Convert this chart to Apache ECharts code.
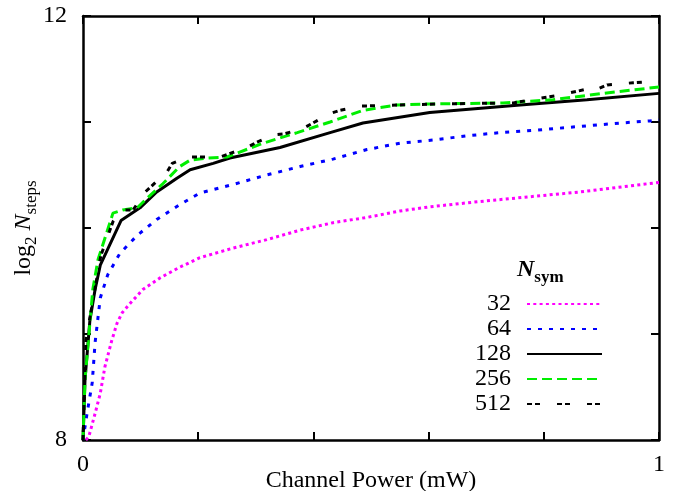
<!DOCTYPE html>
<html>
<head>
<meta charset="utf-8">
<script src="https://cdn.jsdelivr.net/npm/echarts@6/dist/echarts.min.js"></script>
<style>
	html, body { margin: 0; padding: 0; background: #fff; }
	#Chart1 { width: 679px; height: 491px; }
</style>
</head>
<body>
<div id="Chart1"></div>
<script>
	// 数据 (x = channel power in mW, y = log2 Nsteps)
	var legendNames = ['32', '64', '128', '256', '512'];
	var xTicks = [0, 1];
	var yTicks = [8, 12];

	var sym32 = [[0.005, 8.0], [0.01, 8.03], [0.021, 8.25], [0.03, 8.44], [0.038, 8.69], [0.05, 8.94], [0.059, 9.1],
		[0.068, 9.2], [0.082, 9.29], [0.104, 9.42], [0.134, 9.53], [0.168, 9.63], [0.203, 9.72], [0.26, 9.81],
		[0.319, 9.89], [0.377, 9.98], [0.434, 10.05], [0.493, 10.1], [0.55, 10.16], [0.602, 10.2], [0.689, 10.25],
		[0.863, 10.34], [0.984, 10.42], [1, 10.43]];
	var sym64 = [[0, 8], [0.007, 8.25], [0.016, 8.54], [0.021, 8.92], [0.03, 9.34], [0.043, 9.56], [0.064, 9.76],
		[0.094, 9.93], [0.128, 10.08], [0.168, 10.22], [0.203, 10.33], [0.26, 10.41], [0.319, 10.5], [0.377, 10.58],
		[0.434, 10.65], [0.493, 10.74], [0.55, 10.8], [0.608, 10.83], [0.667, 10.87], [0.724, 10.9], [0.78, 10.92],
		[0.845, 10.95], [0.932, 10.99], [0.984, 11.01], [1, 11.02]];
	var sym128 = [[0, 8], [0.0035, 8.57], [0.012, 9.13], [0.021, 9.42], [0.03, 9.65], [0.066, 10.07], [0.099, 10.19],
		[0.128, 10.34], [0.163, 10.47], [0.186, 10.55], [0.226, 10.61], [0.255, 10.66], [0.342, 10.76], [0.429, 10.9],
		[0.486, 10.99], [0.602, 11.09], [0.759, 11.16], [0.875, 11.21], [1, 11.27]];
	var sym256 = [[0, 8], [0.0035, 8.57], [0.017, 9.42], [0.026, 9.7], [0.052, 10.14], [0.069, 10.17], [0.094, 10.19],
		[0.111, 10.28], [0.139, 10.42], [0.168, 10.58], [0.186, 10.64], [0.215, 10.66], [0.25, 10.67], [0.3125, 10.8],
		[0.372, 10.9], [0.429, 11.0], [0.486, 11.11], [0.545, 11.16], [0.602, 11.17], [0.729, 11.18], [0.816, 11.21],
		[0.903, 11.27], [1, 11.33]];
	var sym512 = [[0, 8], [0.005, 8.94], [0.031, 9.74], [0.052, 10.06], [0.068, 10.17], [0.087, 10.17], [0.108, 10.34],
		[0.146, 10.53], [0.155, 10.61], [0.182, 10.67], [0.238, 10.67], [0.285, 10.76], [0.302, 10.81], [0.333, 10.88],
		[0.351, 10.89], [0.382, 10.94], [0.399, 10.99], [0.429, 11.08], [0.446, 11.11], [0.481, 11.15], [0.545, 11.16],
		[0.615, 11.17], [0.747, 11.18], [0.788, 11.22], [0.823, 11.25], [0.875, 11.31], [0.885, 11.29], [0.91, 11.35],
		[0.955, 11.37], [0.984, 11.38], [1, 11.38]];

	var FONT = "'Liberation Serif', 'DejaVu Serif', serif";

	var Box1 = document.getElementById('Chart1');
	var instant1 = echarts.init(Box1);

	function frameAxis(pos, show) {
		return {
			type: 'value',
			position: pos,
			axisLine: { show: true, onZero: false, lineStyle: { color: '#000', width: 2.5 } },
			axisTick: { show: true, inside: true, length: 8, lineStyle: { color: '#000', width: 2 } },
			splitLine: { show: false },
			axisLabel: { show: show }
		};
	}

	var xBottom = frameAxis('bottom', true);
	xBottom.min = 0; xBottom.max = 1; xBottom.interval = 0.2;
	xBottom.name = 'Channel Power (mW)';
	xBottom.nameLocation = 'middle';
	xBottom.nameGap = 29;
	xBottom.nameMoveOverlap = false;
	xBottom.nameTextStyle = { fontFamily: FONT, fontSize: 24, color: '#000' };
	xBottom.axisLabel = {
		show: true, margin: 13, fontFamily: FONT, fontSize: 24, color: '#000',
		formatter: function (v) { return xTicks.indexOf(v) >= 0 ? String(v) : ''; }
	};
	var xTop = frameAxis('top', false);
	xTop.min = 0; xTop.max = 1; xTop.interval = 0.2;

	var yLeft = frameAxis('left', true);
	yLeft.min = 8; yLeft.max = 12; yLeft.interval = 1;
	yLeft.name = '{t|log}{s|2}{t| }{i|N}{s|steps}';
	yLeft.nameLocation = 'middle';
	yLeft.nameRotate = 90;
	yLeft.nameGap = 45;
	yLeft.nameMoveOverlap = false;
	yLeft.nameTextStyle = {
		fontFamily: FONT, fontSize: 24, color: '#000',
		rich: {
			t: { fontFamily: FONT, fontSize: 24, color: '#000', verticalAlign: 'top', lineHeight: 26 },
			i: { fontFamily: FONT, fontSize: 24, color: '#000', fontStyle: 'italic', verticalAlign: 'top', lineHeight: 26 },
			s: { fontFamily: FONT, fontSize: 17, color: '#000', verticalAlign: 'top', lineHeight: 18, padding: [11, 0, 0, 0] }
		}
	};
	yLeft.axisLabel = {
		show: true, margin: 16, fontFamily: FONT, fontSize: 24, color: '#000',
		formatter: function (v) { return yTicks.indexOf(v) >= 0 ? String(v) : ''; }
	};
	var yRight = frameAxis('right', false);
	yRight.min = 8; yRight.max = 12; yRight.interval = 1;

	function mkSeries(name, data, color, dash, width) {
		return {
			name: name,
			type: 'line',
			data: data,
			symbol: 'none',
			smooth: false,
			xAxisIndex: 0,
			yAxisIndex: 0,
			lineStyle: { color: color, width: width, type: dash, cap: 'butt' },
			itemStyle: { color: color },
			emphasis: { disabled: true }
		};
	}

	var option1 = {
		animation: false,
		backgroundColor: '#fff',
		title: {
			text: '{n|N}{s|sym}',
			left: 517,
			top: 258,
			padding: 0,
			textStyle: {
				rich: {
					n: { fontFamily: FONT, fontSize: 24, fontStyle: 'italic', color: '#000', verticalAlign: 'top', lineHeight: 26 },
					s: { fontFamily: FONT, fontSize: 17, color: '#000', verticalAlign: 'top', lineHeight: 18, padding: [11, 0, 0, 0] }
				}
			}
		},
		grid: { left: 83, right: 20, top: 16, bottom: 51, containLabel: false, outerBoundsMode: 'none' },
		xAxis: [xBottom, xTop],
		yAxis: [yLeft, yRight],
		legend: {
			orient: 'vertical',
			right: 76,
			top: 292,
			padding: 0,
			align: 'right',
			itemWidth: 75,
			itemHeight: 14,
			itemGap: 1,
			selectedMode: false,
			data: legendNames,
			itemStyle: { color: 'rgba(0,0,0,0)', opacity: 0, borderWidth: 0 },
			textStyle: { fontFamily: FONT, fontSize: 24, color: '#000', lineHeight: 24, padding: [0, 11, 0, 0] }
		},
		series: [
			mkSeries('32', sym32, '#ff00ff', [3, 3.3], 3),
			mkSeries('64', sym64, '#0000ff', [4, 7], 3),
			mkSeries('128', sym128, '#000000', 'solid', 3),
			mkSeries('256', sym256, '#00ee00', [10, 5], 3),
			mkSeries('512', sym512, '#000000', [5, 3, 5, 17], 3)
		]
	};
	instant1.setOption(option1);
</script>
</body>
</html>
